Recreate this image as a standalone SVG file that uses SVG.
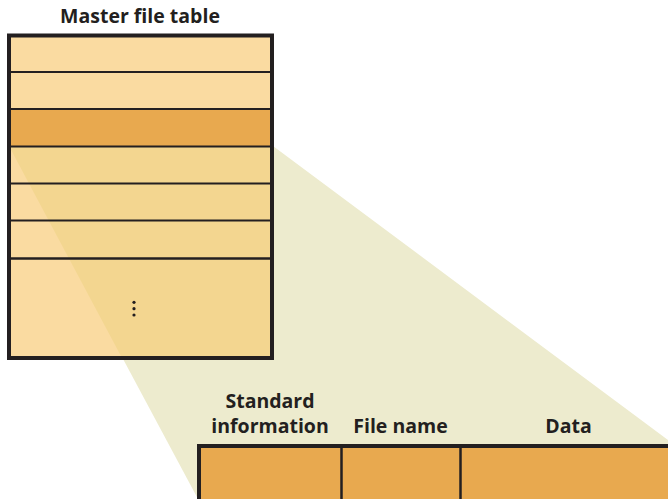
<svg xmlns="http://www.w3.org/2000/svg" width="668" height="499" viewBox="0 0 668 499">
<style>
.lbl{font-family:"Open Sans","Liberation Sans",sans-serif;font-weight:bold;font-size:19.5px;fill:#231F20;text-anchor:middle}
.line{stroke:#231F20;fill:none}
</style>
<rect width="668" height="499" fill="#FFFFFF"/>
<g id="beam">
<polygon points="9,146 273,146 668,440 668,499 198,499" fill="#EDEBCE"/>
</g>
<g id="mft">
<rect x="9" y="36" width="263" height="322" fill="#FADBA1"/>
<rect x="9" y="109" width="263" height="37" fill="#E8A94F"/>
<polygon points="9,146 272,146 272,358 122,358" fill="#F3D690"/>
<g class="line">
<line x1="9" y1="72" x2="272" y2="72" stroke-width="2"/>
<line x1="9" y1="109" x2="272" y2="109" stroke-width="2"/>
<line x1="9" y1="146.5" x2="272" y2="146.5" stroke-width="2"/>
<line x1="9" y1="183.5" x2="272" y2="183.5" stroke-width="2"/>
<line x1="9" y1="220.5" x2="272" y2="220.5" stroke-width="2"/>
<line x1="9" y1="258.5" x2="272" y2="258.5" stroke-width="2.5"/>
<rect x="9" y="35.5" width="263" height="322.5" stroke-width="4"/>
</g>
<g fill="#231F20">
<circle cx="134" cy="302.3" r="1.6"/>
<circle cx="134" cy="308.7" r="1.6"/>
<circle cx="134" cy="315" r="1.6"/>
</g>
<text class="lbl" x="140" y="22.5">Master file table</text>
</g>
<g id="record">
<rect x="199" y="446" width="480" height="60" fill="#E8A94F" stroke="#231F20" stroke-width="4"/>
<line class="line" x1="341.5" y1="446" x2="341.5" y2="499" stroke-width="2.5"/>
<line class="line" x1="460.5" y1="446" x2="460.5" y2="499" stroke-width="2.5"/>
<text class="lbl" x="270" y="407.5">Standard</text>
<text class="lbl" x="270" y="433">information</text>
<text class="lbl" x="400.5" y="433">File name</text>
<text class="lbl" x="568.5" y="433">Data</text>
</g>
</svg>
